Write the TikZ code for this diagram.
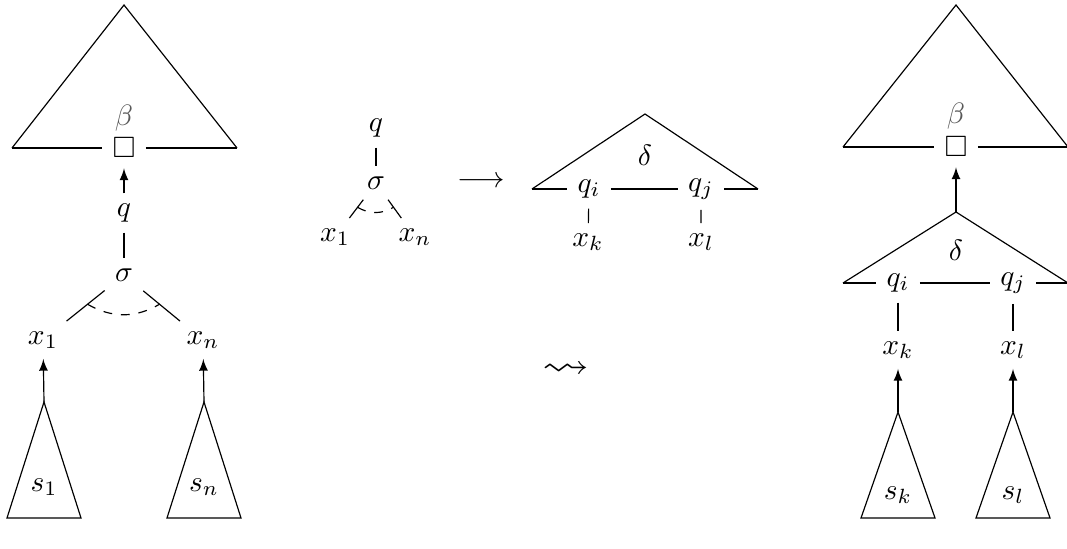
\documentclass[tikz,border=0pt]{standalone}
\usepackage{amssymb}
\usetikzlibrary{calc}
\tikzset{rewrite/.style={x=0.34pt,y=-0.34pt},
  hole/.style={inner sep=3.33pt}}

\begin{document}
\begin{tikzpicture}[rewrite]
    \useasboundingbox (0,0) rectangle (1067,549);
    % left: the tree before the step
    \coordinate (ltop) at (124,5);
    \coordinate (lbl) at (12,148);
    \coordinate (lbr) at (237,148);
    \node[hole] (lhole) at (124,148) {$\Box$};
    \node[black!65] (lbeta) at (124,118) {$\beta$};
    \draw (lbl) -- (ltop) -- (lbr);
    \draw (lbl) -- (lhole) -- (lbr);
    \node (lq) at (124,213) {$q$};
    \node (lsig) at (124,275) {$\sigma$};
    \node (lx1) at (43,340) {$x_1$};
    \node (lxn) at (203,340) {$x_n$};
    \draw[-latex] (lq) -- (lhole);
    \draw (lq) -- (lsig);
    \draw (lsig) -- (lx1) (lsig) -- (lxn);
    \coordinate (la) at ($(lsig)!0.45!(lx1)$);
    \coordinate (lb) at ($(lsig)!0.45!(lxn)$);
    \draw[dashed] (la) to[bend right=30] (lb);

    % middle: the rule
    \node (mq) at (376,128) {$q$};
    \node (msig) at (376,183) {$\sigma$};
    \node (mx1) at (335,237) {$x_1$};
    \node (mxn) at (415,237) {$x_n$};
    \draw (mq) -- (msig);
    \draw (msig) -- (mx1) (msig) -- (mxn);
    \coordinate (ma) at ($(msig)!0.45!(mx1)$);
    \coordinate (mb) at ($(msig)!0.45!(mxn)$);
    \draw[dashed] (ma) to[bend right=30] (mb);
    \node (to) at (481,182) {$\longrightarrow$};
    \coordinate (mtop) at (645,114);
    \coordinate (mdl) at (532,189);
    \coordinate (mdr) at (758,189);
    \node (mqi) at (589,189) {$q_i$};
    \node (mqj) at (701,189) {$q_j$};
    \node (mdelta) at (645,155) {$\delta$};
    \node (mxk) at (588,242) {$x_k$};
    \node (mxl) at (701,242) {$x_l$};
    \draw (mdl) -- (mtop) -- (mdr);
    \draw (mdl) -- (mqi) -- (mqj) -- (mdr);
    \draw (mqi) -- (mxk) (mqj) -- (mxl);
    \node (leads) at (566,370) {\scalebox{1.6}[1.3]{$\leadsto$}};

    % right: the tree after the step
    \coordinate (rtop) at (956,5);
    \coordinate (rbl) at (843,147);
    \coordinate (rbr) at (1068,147);
    \node[hole] (rhole) at (956,147) {$\Box$};
    \node[black!65] (rbeta) at (956,116) {$\beta$};
    \draw (rbl) -- (rtop) -- (rbr);
    \draw (rbl) -- (rhole) -- (rbr);
    \coordinate (rdtop) at (956,212);
    \coordinate (rdl) at (843,283);
    \coordinate (rdr) at (1068,283);
    \node (rqi) at (898,283) {$q_i$};
    \node (rqj) at (1013,283) {$q_j$};
    \node (rdelta) at (956,250) {$\delta$};
    \node (rxk) at (898,350) {$x_k$};
    \node (rxl) at (1013,350) {$x_l$};
    \draw[-latex] (rdtop) -- (rhole);
    \draw (rdl) -- (rdtop) -- (rdr);
    \draw (rdl) -- (rqi) -- (rqj) -- (rdr);
    \draw (rqi) -- (rxk) (rqj) -- (rxl);

    % subtrees
    \foreach \ax/\ay/\ly/\nm/\lab/\tgt in {44/402/487/s1/s_1/lx1, 204/402/487/sn/s_n/lxn,
        898/412/495/sk/s_k/rxk, 1013/412/495/sl/s_l/rxl} {
      \coordinate (\nm) at (\ax,\ay);
      \draw (\nm) -- (\ax-37,518) -- (\ax+37,518) -- cycle;
      \node (\nm lab) at (\ax,\ly) {$\lab$};
      \draw[-latex] (\nm) -- (\tgt);
    }
\end{tikzpicture}
\end{document}
